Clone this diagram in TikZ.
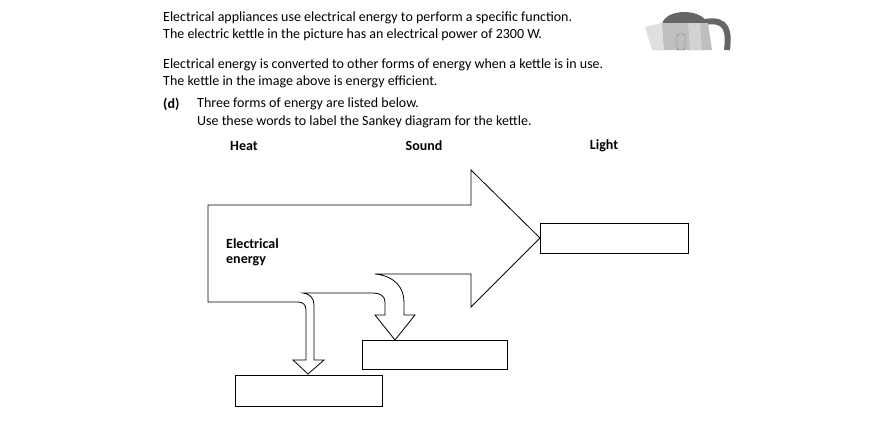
\documentclass[tikz,border=0pt]{standalone}
\usepackage{fontspec}
\setmainfont{Carlito}
\usetikzlibrary{positioning}
\tikzset{
    para/.style = {anchor=west, inner sep=0pt, font=\fontsize{14}{16}\selectfont},
    word/.style = {para, anchor=center, font=\fontsize{14}{16}\selectfont\bfseries},
    answer/.style = {draw, thick}
}
\begin{document}
\begin{tikzpicture}[x=1pt, y=-1pt, line join=miter]
        \useasboundingbox (0, 0) rectangle (892, 421);
%
        \node [para] (t1) at (163, 18) {Electrical appliances use electrical energy to perform a specific function.};
        \node [para] (t2) at (163, 35) {The electric kettle in the picture has an electrical power of 2300 W.};
        \node [para] (t3) at (163, 65) {Electrical energy is converted to other forms of energy when a kettle is in use.};
        \node [para] (t4) at (163, 82) {The kettle in the image above is energy efficient.};
        \node [para, font=\fontsize{14}{16}\selectfont\bfseries] (d) at (163, 104) {(d)};
        \node [para] (t5) at (197, 104) {Three forms of energy are listed below.};
        \node [para] (t6) at (197, 122) {Use these words to label the Sankey diagram for the kettle.};
%
        \node [word] (heat) at (244, 146) {Heat};
        \node [word] (sound) at (424, 146) {Sound};
        \node [word] (light) at (604, 146) {Light};
%
        % kettle
        \draw [gray!80!black, line width=6pt] (705, 22) .. controls (728, 18) and (729, 32) .. (727, 50);
        \fill [gray!80!black] (662, 24) .. controls (666, 8) and (702, 8) .. (708, 24) -- cycle;
        \fill [gray!50] (660, 23) -- (708, 23) -- (712, 50) -- (656, 50) -- cycle;
        \fill [gray!25] (645, 27) -- (662, 23) -- (664, 50) -- (652, 50) -- cycle;
        \fill [gray!35] (688, 23) -- (700, 23) -- (702, 50) -- (690, 50) -- cycle;
        \draw [gray!90!black, rounded corners=2pt] (677, 34) rectangle (685, 50);
%
        % sankey outline
        \draw [thick] (208, 205) -- (471, 205) -- (471, 170) -- (540, 238) -- (471, 307) -- (471, 274)
            -- (375, 274) .. controls (395, 276) and (404, 288) .. (404, 302) -- (404, 315)
            -- (415, 315) -- (395, 340) -- (375, 315) -- (385, 315) -- (385, 302)
            .. controls (385, 296) and (380, 293) .. (373, 293) -- (303, 293)
            .. controls (310, 294) and (314, 298) .. (314, 305) -- (314, 360)
            -- (324, 360) -- (308, 374) -- (293, 360) -- (306, 360) -- (306, 310)
            .. controls (306, 305) and (303, 302) .. (298, 302) -- (208, 302) -- cycle;
        \node [para, font=\fontsize{14}{15}\selectfont\bfseries, align=left] (elec) at (226, 252) {Electrical\\energy};
%
        \draw [answer] (540, 223) rectangle (688, 253);
        \draw [answer] (362, 340) rectangle (507, 369);
        \draw [answer] (235, 375) rectangle (382, 406);
\end{tikzpicture}
\end{document}
